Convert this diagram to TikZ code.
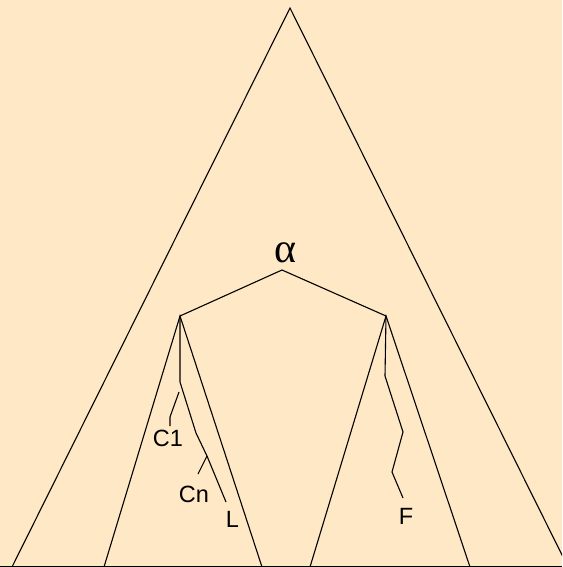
\documentclass[tikz,border=0pt]{standalone}
\usepackage{fontspec}
\setmainfont{Liberation Sans}
\newfontfamily\alphafont{Liberation Serif}
\definecolor{bgpeach}{RGB}{254,232,198}
\definecolor{baseline}{RGB}{206,192,168}

\begin{document}
\begin{tikzpicture}[x=1pt,y=-1pt,line width=1.1pt,
  lbl/.style={inner sep=0pt,font=\fontsize{23.5}{27}\selectfont},
  greek/.style={inner sep=0pt,font=\alphafont\fontsize{42}{46}\selectfont}]
\useasboundingbox (0,0) rectangle (562,567);
\fill[bgpeach] (0,0) rectangle (562,567);
\clip (0,0) rectangle (562,567);
\draw[baseline,line width=0.8pt] (0,566.6) -- (562,566.6);
% outer triangle
\coordinate (top) at (290,8);
\draw (12,567) -- (top) -- (568,567);
% roof
\coordinate (nl) at (180,316);
\coordinate (nr) at (386,316);
\coordinate (roof) at (282,270);
\node[greek] (alpha) at (285.5,253) {α};
\draw (nl) -- (roof) -- (nr);
% subtrees
\draw (104,567) -- (nl) -- (262,567);
\draw (310,567) -- (nr) -- (470,567);
% labels
\node[lbl] (c1) at (168,438.5) {C1};
\node[lbl] (cn) at (194,494.5) {Cn};
\node[lbl] (l) at (232.5,519) {L};
\node[lbl] (f) at (406,516) {F};
% paths down the left subtree
\coordinate (lk) at (180,382);
\coordinate (cj) at (207,456);
\coordinate (lend) at (226,502);
\draw (nl) -- (lk) -- (196,433) -- (cj) -- (lend);
\draw (179,392) -- (170,417) -- (170,426);
\draw (cj) -- (198,474);
% path down the right subtree
\coordinate (fend) at (403,498);
\draw (nr) -- (385,376) -- (403,432) -- (392,472) -- (fend);
\end{tikzpicture}
\end{document}
